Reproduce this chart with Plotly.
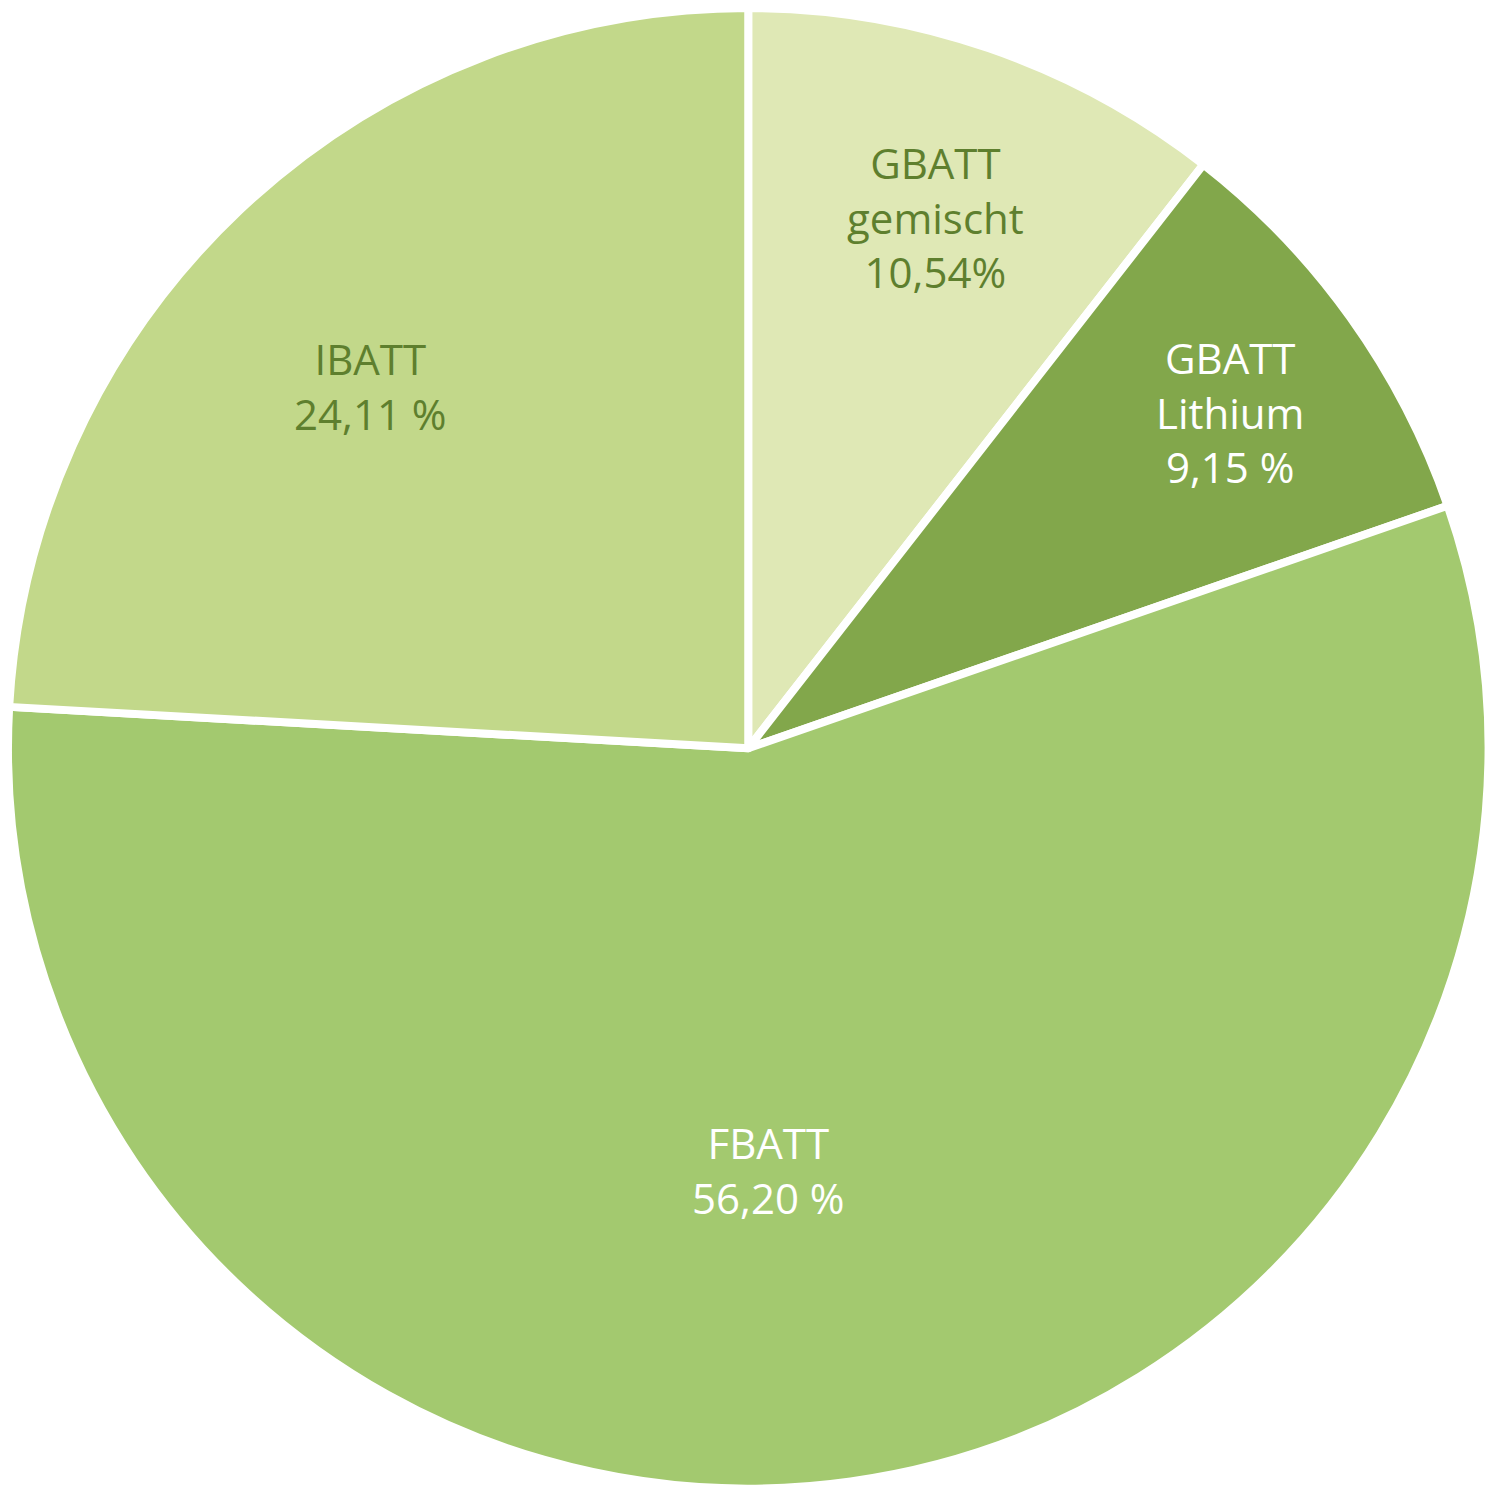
import plotly.graph_objects as go

labels = ["GBATT gemischt", "GBATT Lithium", "FBATT", "IBATT"]
values = [10.54, 9.15, 56.20, 24.11]
slice_text = ["GBATT<br>gemischt<br>10,54%", "GBATT<br>Lithium<br>9,15 %",
              "FBATT<br>56,20 %", "IBATT<br>24,11 %"]
colors = ["#DFE8B5", "#82A74B", "#A3C96F", "#C2D88A"]
text_colors = ["#5E7F2E", "#FFFFFF", "#FFFFFF", "#5E7F2E"]

# label centres (page pixels)
label_xy = [(935, 217), (1230, 412), (768, 1170), (370, 386)]
OFF = 8  # body margin of the html page
W = H = 1500

fig = go.Figure()
fig.add_trace(go.Pie(
    labels=labels, values=values,
    sort=False, direction="clockwise", rotation=0,
    marker=dict(colors=colors, line=dict(color="white", width=8)),
    textinfo="none", hoverinfo="label+percent",
    domain=dict(x=[0, 0.987], y=[0.013, 1]),
    showlegend=False,
))

for txt, col, (px, py) in zip(slice_text, text_colors, label_xy):
    fig.add_annotation(
        text=txt, x=(px - OFF) / W, y=1 - (py - OFF) / H,
        xref="paper", yref="paper", xanchor="center", yanchor="middle",
        showarrow=False, align="center",
        font=dict(family="Open Sans", size=42, color=col),
    )

fig.update_layout(
    width=W, height=H,
    margin=dict(l=0, r=0, t=0, b=0),
    paper_bgcolor="white",
    plot_bgcolor="white",
)

fig.write_html("out.html")
